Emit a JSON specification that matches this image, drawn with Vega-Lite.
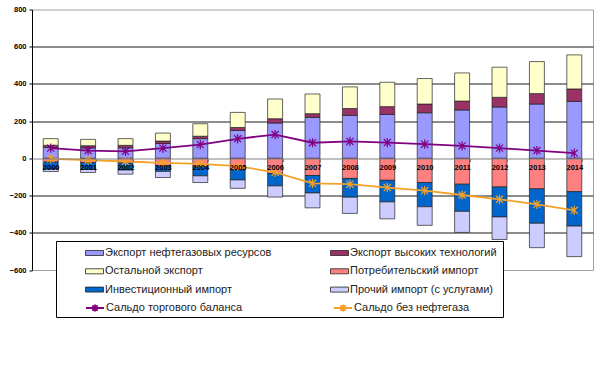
{
  "$schema": "https://vega.github.io/schema/vega-lite/v6.json",
  "width": 561,
  "height": 260.5,
  "autosize": "none",
  "padding": {"left": 32, "top": 9.5, "right": 7, "bottom": 105},
  "background": "white",
  "config": {"view": {"stroke": "#a0a0a0", "strokeWidth": 1}, "font": "Liberation Sans", "axis": {"labelOverlap": false}},
  "datasets": {
    "bars": [
      {"year": "2000", "series": "Экспорт нефтегазовых ресурсов", "value": 58, "k": 1},
      {"year": "2000", "series": "Экспорт высоких технологий", "value": 12, "k": 2},
      {"year": "2000", "series": "Остальной экспорт", "value": 36, "k": 3},
      {"year": "2000", "series": "Потребительский импорт", "value": -20, "k": 4},
      {"year": "2000", "series": "Инвестиционный импорт", "value": -38, "k": 5},
      {"year": "2000", "series": "Прочий импорт (с услугами)", "value": -13, "k": 6},
      {"year": "2001", "series": "Экспорт нефтегазовых ресурсов", "value": 56, "k": 1},
      {"year": "2001", "series": "Экспорт высоких технологий", "value": 12, "k": 2},
      {"year": "2001", "series": "Остальной экспорт", "value": 34, "k": 3},
      {"year": "2001", "series": "Потребительский импорт", "value": -23, "k": 4},
      {"year": "2001", "series": "Инвестиционный импорт", "value": -37, "k": 5},
      {"year": "2001", "series": "Прочий импорт (с услугами)", "value": -16, "k": 6},
      {"year": "2002", "series": "Экспорт нефтегазовых ресурсов", "value": 57, "k": 1},
      {"year": "2002", "series": "Экспорт высоких технологий", "value": 13, "k": 2},
      {"year": "2002", "series": "Остальной экспорт", "value": 36, "k": 3},
      {"year": "2002", "series": "Потребительский импорт", "value": -25, "k": 4},
      {"year": "2002", "series": "Инвестиционный импорт", "value": -38, "k": 5},
      {"year": "2002", "series": "Прочий импорт (с услугами)", "value": -22, "k": 6},
      {"year": "2003", "series": "Экспорт нефтегазовых ресурсов", "value": 80, "k": 1},
      {"year": "2003", "series": "Экспорт высоких технологий", "value": 13, "k": 2},
      {"year": "2003", "series": "Остальной экспорт", "value": 43, "k": 3},
      {"year": "2003", "series": "Потребительский импорт", "value": -40, "k": 4},
      {"year": "2003", "series": "Инвестиционный импорт", "value": -30, "k": 5},
      {"year": "2003", "series": "Прочий импорт (с услугами)", "value": -33, "k": 6},
      {"year": "2004", "series": "Экспорт нефтегазовых ресурсов", "value": 106, "k": 1},
      {"year": "2004", "series": "Экспорт высоких технологий", "value": 13, "k": 2},
      {"year": "2004", "series": "Остальной экспорт", "value": 67, "k": 3},
      {"year": "2004", "series": "Потребительский импорт", "value": -46, "k": 4},
      {"year": "2004", "series": "Инвестиционный импорт", "value": -48, "k": 5},
      {"year": "2004", "series": "Прочий импорт (с услугами)", "value": -36, "k": 6},
      {"year": "2005", "series": "Экспорт нефтегазовых ресурсов", "value": 150, "k": 1},
      {"year": "2005", "series": "Экспорт высоких технологий", "value": 16, "k": 2},
      {"year": "2005", "series": "Остальной экспорт", "value": 81, "k": 3},
      {"year": "2005", "series": "Потребительский импорт", "value": -62, "k": 4},
      {"year": "2005", "series": "Инвестиционный импорт", "value": -54, "k": 5},
      {"year": "2005", "series": "Прочий импорт (с услугами)", "value": -45, "k": 6},
      {"year": "2006", "series": "Экспорт нефтегазовых ресурсов", "value": 190, "k": 1},
      {"year": "2006", "series": "Экспорт высоких технологий", "value": 23, "k": 2},
      {"year": "2006", "series": "Остальной экспорт", "value": 106, "k": 3},
      {"year": "2006", "series": "Потребительский импорт", "value": -82, "k": 4},
      {"year": "2006", "series": "Инвестиционный импорт", "value": -66, "k": 5},
      {"year": "2006", "series": "Прочий импорт (с услугами)", "value": -60, "k": 6},
      {"year": "2007", "series": "Экспорт нефтегазовых ресурсов", "value": 220, "k": 1},
      {"year": "2007", "series": "Экспорт высоких технологий", "value": 20, "k": 2},
      {"year": "2007", "series": "Остальной экспорт", "value": 106, "k": 3},
      {"year": "2007", "series": "Потребительский импорт", "value": -92, "k": 4},
      {"year": "2007", "series": "Инвестиционный импорт", "value": -94, "k": 5},
      {"year": "2007", "series": "Прочий импорт (с услугами)", "value": -80, "k": 6},
      {"year": "2008", "series": "Экспорт нефтегазовых ресурсов", "value": 231, "k": 1},
      {"year": "2008", "series": "Экспорт высоких технологий", "value": 37, "k": 2},
      {"year": "2008", "series": "Остальной экспорт", "value": 116, "k": 3},
      {"year": "2008", "series": "Потребительский импорт", "value": -108, "k": 4},
      {"year": "2008", "series": "Инвестиционный импорт", "value": -101, "k": 5},
      {"year": "2008", "series": "Прочий импорт (с услугами)", "value": -87, "k": 6},
      {"year": "2009", "series": "Экспорт нефтегазовых ресурсов", "value": 236, "k": 1},
      {"year": "2009", "series": "Экспорт высоких технологий", "value": 42, "k": 2},
      {"year": "2009", "series": "Остальной экспорт", "value": 131, "k": 3},
      {"year": "2009", "series": "Потребительский импорт", "value": -118, "k": 4},
      {"year": "2009", "series": "Инвестиционный импорт", "value": -116, "k": 5},
      {"year": "2009", "series": "Прочий импорт (с услугами)", "value": -91, "k": 6},
      {"year": "2010", "series": "Экспорт нефтегазовых ресурсов", "value": 245, "k": 1},
      {"year": "2010", "series": "Экспорт высоких технологий", "value": 47, "k": 2},
      {"year": "2010", "series": "Остальной экспорт", "value": 137, "k": 3},
      {"year": "2010", "series": "Потребительский импорт", "value": -130, "k": 4},
      {"year": "2010", "series": "Инвестиционный импорт", "value": -130, "k": 5},
      {"year": "2010", "series": "Прочий импорт (с услугами)", "value": -100, "k": 6},
      {"year": "2011", "series": "Экспорт нефтегазовых ресурсов", "value": 260, "k": 1},
      {"year": "2011", "series": "Экспорт высоких технологий", "value": 48, "k": 2},
      {"year": "2011", "series": "Остальной экспорт", "value": 151, "k": 3},
      {"year": "2011", "series": "Потребительский импорт", "value": -139, "k": 4},
      {"year": "2011", "series": "Инвестиционный импорт", "value": -146, "k": 5},
      {"year": "2011", "series": "Прочий импорт (с услугами)", "value": -113, "k": 6},
      {"year": "2012", "series": "Экспорт нефтегазовых ресурсов", "value": 276, "k": 1},
      {"year": "2012", "series": "Экспорт высоких технологий", "value": 52, "k": 2},
      {"year": "2012", "series": "Остальной экспорт", "value": 162, "k": 3},
      {"year": "2012", "series": "Потребительский импорт", "value": -154, "k": 4},
      {"year": "2012", "series": "Инвестиционный импорт", "value": -161, "k": 5},
      {"year": "2012", "series": "Прочий импорт (с услугами)", "value": -121, "k": 6},
      {"year": "2013", "series": "Экспорт нефтегазовых ресурсов", "value": 292, "k": 1},
      {"year": "2013", "series": "Экспорт высоких технологий", "value": 56, "k": 2},
      {"year": "2013", "series": "Остальной экспорт", "value": 172, "k": 3},
      {"year": "2013", "series": "Потребительский импорт", "value": -164, "k": 4},
      {"year": "2013", "series": "Инвестиционный импорт", "value": -185, "k": 5},
      {"year": "2013", "series": "Прочий импорт (с услугами)", "value": -131, "k": 6},
      {"year": "2014", "series": "Экспорт нефтегазовых ресурсов", "value": 306, "k": 1},
      {"year": "2014", "series": "Экспорт высоких технологий", "value": 67, "k": 2},
      {"year": "2014", "series": "Остальной экспорт", "value": 183, "k": 3},
      {"year": "2014", "series": "Потребительский импорт", "value": -179, "k": 4},
      {"year": "2014", "series": "Инвестиционный импорт", "value": -185, "k": 5},
      {"year": "2014", "series": "Прочий импорт (с услугами)", "value": -164, "k": 6}
    ],
    "lines": [
      {"year": "2000", "series": "Сальдо торгового баланса", "value": 55},
      {"year": "2001", "series": "Сальдо торгового баланса", "value": 42},
      {"year": "2002", "series": "Сальдо торгового баланса", "value": 38},
      {"year": "2003", "series": "Сальдо торгового баланса", "value": 55},
      {"year": "2004", "series": "Сальдо торгового баланса", "value": 74},
      {"year": "2005", "series": "Сальдо торгового баланса", "value": 105},
      {"year": "2006", "series": "Сальдо торгового баланса", "value": 128},
      {"year": "2007", "series": "Сальдо торгового баланса", "value": 84},
      {"year": "2008", "series": "Сальдо торгового баланса", "value": 91},
      {"year": "2009", "series": "Сальдо торгового баланса", "value": 85},
      {"year": "2010", "series": "Сальдо торгового баланса", "value": 76},
      {"year": "2011", "series": "Сальдо торгового баланса", "value": 67},
      {"year": "2012", "series": "Сальдо торгового баланса", "value": 55},
      {"year": "2013", "series": "Сальдо торгового баланса", "value": 42},
      {"year": "2014", "series": "Сальдо торгового баланса", "value": 28},
      {"year": "2000", "series": "Сальдо без нефтегаза", "value": -2},
      {"year": "2001", "series": "Сальдо без нефтегаза", "value": -10},
      {"year": "2002", "series": "Сальдо без нефтегаза", "value": -17},
      {"year": "2003", "series": "Сальдо без нефтегаза", "value": -24},
      {"year": "2004", "series": "Сальдо без нефтегаза", "value": -30},
      {"year": "2005", "series": "Сальдо без нефтегаза", "value": -42},
      {"year": "2006", "series": "Сальдо без нефтегаза", "value": -75},
      {"year": "2007", "series": "Сальдо без нефтегаза", "value": -134},
      {"year": "2008", "series": "Сальдо без нефтегаза", "value": -139},
      {"year": "2009", "series": "Сальдо без нефтегаза", "value": -157},
      {"year": "2010", "series": "Сальдо без нефтегаза", "value": -173},
      {"year": "2011", "series": "Сальдо без нефтегаза", "value": -197},
      {"year": "2012", "series": "Сальдо без нефтегаза", "value": -220},
      {"year": "2013", "series": "Сальдо без нефтегаза", "value": -247},
      {"year": "2014", "series": "Сальдо без нефтегаза", "value": -279}
    ]
  },
  "layer": [
    {
      "data": {"name": "bars"},
      "mark": {"type": "bar", "stroke": "#222222", "strokeWidth": 0.7},
      "encoding": {
        "x": {
          "field": "year", "type": "ordinal",
          "scale": {"paddingInner": 0.6, "paddingOuter": 0.3},
          "axis": {
            "title": null, "orient": "bottom", "offset": -111.5, "zindex": 1,
            "domainColor": "#808080", "tickColor": "#808080", "tickSize": 3, "tickBand": "extent",
            "labelAngle": 0, "labelFontSize": 7.5, "labelFontWeight": "bold", "labelColor": "#000000", "labelPadding": 2
          }
        },
        "y": {
          "field": "value", "type": "quantitative", "stack": "zero",
          "scale": {"domain": [-600, 800], "nice": false, "zero": false},
          "axis": {
            "title": null, "values": [-600, -400, -200, 0, 200, 400, 600, 800], "tickCount": 20,
            "labelOverlap": false, "labelFlush": false,
            "grid": true,
            "gridColor": {"condition": {"test": "datum.value === 800 || datum.value === -600 || datum.value === 0", "value": "transparent"}, "value": "#1a1a1a"},
            "gridWidth": 1,
            "domainColor": "#000000", "tickColor": "#000000", "tickSize": 3,
            "labelFontSize": 7.5, "labelFontWeight": "bold", "labelColor": "#000000", "labelPadding": 3
          }
        },
        "color": {
          "field": "series", "type": "nominal",
          "scale": {
            "domain": ["Экспорт нефтегазовых ресурсов", "Остальной экспорт", "Инвестиционный импорт", "Экспорт высоких технологий", "Потребительский импорт", "Прочий импорт (с услугами)"],
            "range": ["#9999FF", "#FFFFCC", "#0066CC", "#993366", "#FF8080", "#CCCCFF"]
          },
          "legend": {
            "orient": "none", "legendX": 24, "legendY": 231.5, "columns": 2, "zindex": 0,
            "title": " ", "titleOrient": "bottom", "titleFontSize": 8, "titlePadding": 6.4,
            "padding": 6, "strokeColor": "#000000", "fillColor": "#ffffff",
            "symbolType": "M-1,-0.28H1V0.28H-1Z", "symbolSize": 324, "symbolStrokeColor": "#222222", "symbolStrokeWidth": 0.8,
            "clipHeight": 12, "rowPadding": 6.3, "columnPadding": 35, "gridAlign": "all",
            "symbolOffset": 23, "labelOffset": 1,
            "labelFont": "Liberation Sans", "labelFontSize": 11, "labelColor": "#222222", "labelLimit": 300
          }
        },
        "order": {"field": "k", "type": "quantitative"}
      }
    },
    {
      "data": {"name": "lines"},
      "mark": {"type": "line", "strokeWidth": 1.8},
      "encoding": {
        "x": {"field": "year", "type": "ordinal"},
        "y": {"field": "value", "type": "quantitative"},
        "stroke": {
          "field": "series", "type": "nominal",
          "scale": {"domain": ["Сальдо торгового баланса", "Сальдо без нефтегаза"], "range": ["#800080", "#F2A22A"]},
          "legend": {
            "orient": "none", "legendX": 30, "legendY": 292.5, "columns": 2, "title": null, "zindex": 1,
            "padding": 0, "direction": "horizontal",
            "symbolType": "M-1,0H1M-0.3,-0.3L0.3,0.3M-0.3,0.3L0.3,-0.3M0,-0.4V0.4", "symbolSize": 324, "symbolStrokeWidth": 1.8, "symbolFillColor": "transparent",
            "clipHeight": 12, "columnPadding": 67, "gridAlign": "all",
            "symbolOffset": 23, "labelOffset": 1,
            "labelFont": "Liberation Sans", "labelFontSize": 11, "labelColor": "#222222", "labelLimit": 300
          }
        }
      }
    },
    {
      "data": {"name": "lines"},
      "mark": {"type": "point", "shape": "M-1,-1L1,1M-1,1L1,-1M0,-1.3V1.3", "filled": false, "size": 50, "strokeWidth": 1.2, "opacity": 1},
      "encoding": {
        "x": {"field": "year", "type": "ordinal"},
        "y": {"field": "value", "type": "quantitative"},
        "stroke": {
          "field": "series", "type": "nominal",
          "legend": {
            "orient": "none", "legendX": 30, "legendY": 292.5, "columns": 2, "title": null, "zindex": 1,
            "padding": 0, "direction": "horizontal",
            "symbolType": "M-1,0H1M-0.3,-0.3L0.3,0.3M-0.3,0.3L0.3,-0.3M0,-0.4V0.4", "symbolSize": 324, "symbolStrokeWidth": 1.8, "symbolFillColor": "transparent",
            "clipHeight": 12, "columnPadding": 67, "gridAlign": "all",
            "symbolOffset": 23, "labelOffset": 1,
            "labelFont": "Liberation Sans", "labelFontSize": 11, "labelColor": "#222222", "labelLimit": 300
          }
        }
      }
    }
  ]
}
